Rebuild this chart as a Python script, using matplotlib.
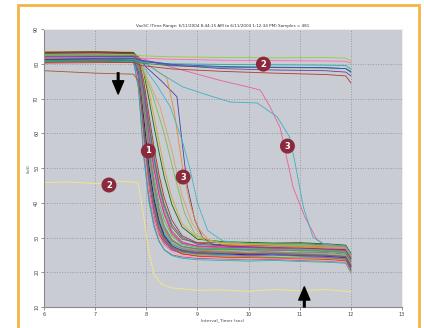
import matplotlib
matplotlib.use("Agg")
import matplotlib.pyplot as plt
from matplotlib.patches import Rectangle

# ---------------- data ----------------
title_text = "VacSC (Time Range: 6/11/2004 8:44:15 AM to 6/11/2004 1:12:34 PM) Samples = 481"
x_label = "Interval_Timer (sec)"
y_label = "VacSC"
x_ticks = [6, 7, 8, 9, 10, 11, 12, 13]
y_ticks = [10, 20, 30, 40, 50, 60, 70, 80, 90]

# main bundle (shared time points)
bundle_x = [6.0, 7.0, 7.75, 7.85, 7.95, 8.05, 8.15, 8.25, 8.35, 8.5, 8.7, 9.0, 9.5, 10.0, 10.5, 11.0, 11.5, 11.9, 12.0]
bundle_y = [
    [83.2, 83.4, 83.1, 76.0, 58.0, 44.5, 36.0, 31.0, 28.5, 27.0, 26.4, 26.0, 25.8, 25.5, 25.6, 25.3, 25.0, 24.6, 22.0],
    [82.6, 82.8, 82.5, 78.5, 65.0, 51.0, 41.5, 35.0, 31.0, 28.0, 26.8, 26.3, 26.0, 26.2, 25.8, 25.6, 25.7, 25.2, 23.0],
    [81.8, 82.0, 81.9, 80.5, 72.0, 61.0, 51.5, 44.0, 38.0, 32.0, 28.8, 27.5, 27.2, 27.0, 26.8, 26.9, 26.5, 26.1, 24.0],
    [80.9, 81.1, 80.8, 73.0, 54.0, 41.0, 33.5, 29.0, 26.5, 25.0, 24.4, 24.0, 23.8, 23.6, 23.7, 23.4, 23.2, 22.9, 20.5],
    [82.1, 82.3, 82.0, 77.0, 62.0, 48.0, 39.0, 33.0, 29.5, 27.0, 26.0, 25.5, 25.4, 25.1, 25.2, 24.9, 24.7, 24.3, 21.8],
    [83.0, 83.1, 82.9, 81.5, 76.0, 67.0, 58.0, 50.0, 43.0, 36.0, 31.0, 28.8, 28.3, 28.0, 28.1, 27.8, 27.7, 27.3, 25.0],
    [81.3, 81.5, 81.2, 75.0, 57.0, 44.0, 36.5, 31.5, 28.8, 26.5, 25.3, 24.8, 24.5, 24.6, 24.3, 24.1, 24.2, 23.8, 21.0],
    [82.4, 82.5, 82.3, 79.5, 69.0, 56.0, 46.0, 38.5, 33.5, 29.5, 27.5, 26.8, 26.6, 26.4, 26.5, 26.2, 26.0, 25.5, 23.2],
    [80.6, 80.8, 80.5, 77.5, 63.0, 49.0, 40.0, 34.0, 30.0, 27.2, 25.8, 25.0, 24.7, 24.5, 24.2, 24.3, 24.0, 23.6, 20.8],
    [83.4, 83.5, 83.3, 80.0, 70.5, 59.0, 49.5, 42.0, 36.5, 31.0, 28.3, 27.4, 27.0, 27.3, 26.9, 26.7, 26.6, 26.2, 24.2],
    [81.6, 81.7, 81.5, 74.0, 55.5, 42.5, 35.0, 30.5, 28.0, 26.3, 25.6, 25.4, 25.2, 25.3, 25.0, 24.8, 24.9, 24.5, 22.2],
    [82.8, 83.0, 82.7, 81.0, 74.0, 64.0, 54.5, 46.5, 40.0, 33.5, 29.8, 28.2, 27.8, 27.6, 27.7, 27.4, 27.2, 26.8, 24.6],
    [81.0, 81.2, 80.9, 78.0, 66.0, 52.5, 42.5, 35.5, 31.5, 28.2, 26.6, 25.9, 25.6, 25.5, 25.6, 25.3, 25.1, 24.7, 22.4],
    [82.3, 82.4, 82.2, 75.5, 59.5, 46.0, 37.5, 32.0, 29.0, 26.8, 25.6, 24.9, 24.6, 24.4, 24.5, 24.2, 23.9, 23.5, 20.2],
    [83.1, 83.2, 83.0, 80.8, 72.5, 62.5, 53.0, 45.0, 39.0, 33.0, 29.5, 28.5, 28.6, 28.3, 28.1, 28.2, 27.9, 27.5, 25.2],
    [81.9, 82.1, 81.8, 78.8, 67.5, 54.5, 44.5, 37.0, 32.5, 29.0, 27.3, 26.7, 26.4, 26.6, 26.3, 26.1, 26.2, 25.7, 23.6],
    [80.4, 80.6, 80.4, 76.5, 61.0, 47.0, 38.0, 32.5, 29.2, 26.8, 25.3, 24.6, 24.3, 24.2, 24.0, 23.8, 23.7, 23.3, 20.6],
    [82.9, 83.0, 82.8, 79.0, 68.0, 55.0, 45.5, 38.0, 33.0, 29.2, 27.4, 26.6, 26.9, 26.5, 26.3, 26.4, 26.1, 25.8, 23.4],
    [81.4, 81.6, 81.3, 80.2, 73.0, 63.0, 53.5, 45.5, 39.5, 33.8, 30.0, 28.0, 27.6, 27.4, 27.5, 27.1, 27.0, 26.6, 24.4],
    [82.0, 82.2, 81.9, 74.5, 56.5, 43.5, 35.5, 30.5, 27.8, 25.8, 24.8, 24.3, 24.0, 23.8, 23.9, 23.6, 23.4, 23.0, 20.0],
    [83.3, 83.4, 83.2, 81.8, 77.5, 70.0, 62.0, 54.5, 47.5, 39.5, 33.0, 29.5, 28.8, 28.6, 28.4, 28.5, 28.2, 27.8, 25.5],
    [81.2, 81.4, 81.1, 77.8, 64.5, 50.5, 41.0, 34.5, 30.5, 27.6, 26.2, 25.6, 25.3, 25.0, 25.1, 24.8, 24.6, 24.2, 21.6],
    [82.5, 82.7, 82.4, 80.3, 71.0, 59.5, 50.0, 42.5, 37.0, 31.5, 28.5, 27.6, 27.3, 27.1, 26.9, 27.0, 26.7, 26.3, 24.0],
    [80.8, 81.0, 80.7, 72.5, 53.0, 40.5, 33.0, 28.8, 26.5, 24.8, 24.0, 23.6, 23.4, 23.2, 23.4, 23.1, 22.9, 22.6, 19.8],
    [82.2, 82.4, 82.1, 78.2, 66.5, 53.5, 43.5, 36.5, 32.0, 28.5, 27.0, 26.3, 26.0, 25.8, 25.9, 25.6, 25.4, 25.0, 22.8],
    [83.0, 83.2, 82.9, 81.2, 75.0, 65.5, 56.0, 48.0, 41.5, 35.0, 30.5, 28.4, 27.9, 27.7, 27.8, 27.5, 27.3, 26.9, 24.8],
    [81.7, 81.9, 81.6, 76.0, 60.0, 46.5, 38.0, 32.5, 29.3, 27.0, 25.9, 25.3, 25.0, 24.8, 24.9, 24.6, 24.4, 24.0, 21.3],
    [82.7, 82.8, 82.6, 79.8, 70.0, 57.5, 47.5, 40.0, 35.0, 30.5, 28.0, 27.1, 26.8, 26.9, 26.6, 26.5, 26.3, 25.9, 23.8],
    [81.5, 81.7, 81.4, 81.0, 78.0, 72.0, 65.0, 57.5, 50.0, 41.5, 34.0, 29.8, 28.4, 28.0, 27.9, 27.7, 27.6, 27.2, 24.9],
    [82.3, 82.4, 82.2, 76.8, 61.5, 48.0, 39.0, 33.0, 29.5, 27.2, 26.1, 25.6, 25.2, 25.4, 25.1, 24.9, 24.8, 24.4, 21.9],
    [78.0, 77.3, 77.0, 75.0, 62.0, 49.0, 40.0, 34.0, 30.0, 27.5, 26.2, 25.7, 25.5, 25.3, 25.4, 25.1, 24.9, 24.5, 22.0],
]
bundle_colors = ['#e41a1c', '#377eb8', '#4daf4a', '#984ea3', '#ff7f00', '#a6cee3', '#e7298a', '#66a61e',
                 '#1b9e77', '#d95f02', '#7570b3', '#e6ab02', '#17becf', '#bcbd22', '#8c564b', '#2ca02c',
                 '#d62728', '#9467bd', '#1f77b4', '#ff9896', '#006400', '#00008b', '#ff00ff', '#20b2aa',
                 '#cd853f', '#b22222', '#6a5acd', '#3cb371', '#daa520', '#4682b4', '#a0522d']

# slower-dropping lines (group 3, near x = 8.7)
late_purple_x = [7.85, 8.0, 8.3, 8.6, 8.68, 8.8, 8.95, 9.1, 9.3, 9.6, 10.0, 11.0, 11.9, 12.0]
late_purple_y = [82.0, 79.0, 75.0, 70.5, 60.0, 45.0, 35.0, 30.0, 28.0, 27.5, 27.3, 27.0, 26.5, 24.0]
late_orange_x = [7.85, 8.1, 8.4, 8.55, 8.72, 8.85, 9.0, 9.2, 9.5, 10.0, 11.0, 11.9, 12.0]
late_orange_y = [82.0, 79.0, 76.0, 66.0, 49.0, 40.0, 33.0, 29.5, 28.0, 27.6, 27.2, 26.8, 24.5]
late_cyan_x = [7.85, 8.2, 8.47, 8.7, 8.86, 9.0, 9.2, 9.5, 10.0, 11.0, 11.9, 12.0]
late_cyan_y = [81.0, 74.0, 67.6, 58.0, 49.4, 40.0, 32.0, 29.0, 28.2, 27.9, 27.4, 25.0]
late_tan_x = [7.85, 8.27, 8.5, 8.7, 8.9, 9.1, 9.4, 10.0, 11.0, 11.9, 12.0]
late_tan_y = [81.5, 67.6, 55.0, 42.0, 34.0, 30.0, 28.5, 28.0, 27.5, 27.0, 24.8]
late_green_x = [7.85, 8.1, 8.35, 8.55, 8.75, 8.95, 9.2, 10.0, 11.0, 11.9, 12.0]
late_green_y = [81.0, 72.0, 60.0, 48.0, 37.0, 31.0, 28.8, 28.3, 27.8, 27.3, 25.0]

# very late drops (group 3, near x = 11)
pink3_x = [7.9, 8.5, 9.0, 9.5, 10.0, 10.23, 10.42, 10.62, 10.87, 11.1, 11.34, 11.5, 11.7, 11.9, 12.0]
pink3_y = [81.5, 79.0, 77.0, 75.0, 73.3, 72.4, 67.6, 61.5, 44.5, 35.9, 29.3, 28.0, 27.6, 27.3, 25.0]
cyan3_x = [7.9, 8.3, 8.72, 9.2, 9.64, 10.17, 10.56, 10.8, 10.91, 11.07, 11.26, 11.45, 11.7, 11.9, 12.0]
cyan3_y = [81.0, 77.0, 73.3, 71.0, 69.0, 68.7, 64.7, 59.0, 51.4, 38.8, 30.1, 28.3, 27.8, 27.5, 25.2]

# lines that stay high (group 2)
high_x = [6.0, 7.75, 7.9, 8.5, 9.5, 10.5, 11.5, 11.9, 12.0]
high_y = [
    [82.5, 82.6, 82.3, 82.0, 81.8, 81.7, 81.8, 81.6, 80.8],
    [81.8, 82.0, 81.6, 81.3, 81.0, 80.9, 80.8, 80.7, 80.2],
    [81.0, 81.2, 80.5, 80.0, 79.8, 79.7, 79.6, 79.5, 78.5],
    [80.8, 80.9, 80.2, 79.4, 79.0, 78.9, 78.8, 78.6, 77.5],
    [81.3, 81.5, 80.8, 79.6, 78.6, 78.2, 78.0, 77.6, 76.5],
    [80.2, 80.4, 79.5, 78.5, 77.8, 77.3, 76.9, 76.5, 74.5],
    [82.0, 82.1, 81.0, 79.8, 79.2, 79.0, 78.9, 78.6, 77.8],
]
high_colors = ['#9acd32', '#ff69b4', '#20b2aa', '#2e8b57', '#6a3d9a', '#b03a2e', '#3050c0']

# low yellow line (group 2)
yellow_x = [6.0, 6.5, 7.0, 7.5, 7.84, 7.95, 8.05, 8.15, 8.3, 8.5, 9.0, 9.5, 10.0, 10.5, 11.0, 11.5, 12.0]
yellow_y = [45.8, 46.0, 45.5, 46.2, 45.8, 36.0, 26.0, 19.5, 16.5, 15.5, 14.8, 14.9, 14.5, 15.0, 14.7, 15.0, 14.4]

# annotation markers (label, x, y)
marker_labels = ["1", "2", "3", "3", "2"]
marker_x = [8.04, 10.29, 8.72, 10.76, 7.27]
marker_y = [54.9, 79.9, 47.4, 56.3, 45.1]

# arrows (tail x, tail y, tip x, tip y)
arrow_down = (7.45, 77.4, 7.45, 71.3)
arrow_up = (11.09, 10.0, 11.09, 15.8)

# ---------------- figure ----------------
fig = plt.figure(figsize=(4.24, 3.28), dpi=100)
fig.patch.set_facecolor('white')

frame = Rectangle((18 / 424, -0.05), 401 / 424, 1.05 - 5 / 328, transform=fig.transFigure,
                  fill=False, edgecolor='#f4b646', linewidth=2.0, zorder=0)
fig.patches.append(frame)

ax = fig.add_axes([44 / 424, 1 - 307 / 328, 358 / 424, 278 / 328])
ax.set_facecolor('#c9ccd3')
ax.set_xlim(6, 13)
ax.set_ylim(10, 90)

ax.grid(True, color='#969aa1', linestyle=(0, (1, 1.6)), linewidth=0.7)
ax.set_axisbelow(True)

for ys, c in zip(bundle_y, bundle_colors):
    ax.plot(bundle_x, ys, color=c, lw=0.6, alpha=0.95)

ax.plot(late_purple_x, late_purple_y, color='#4b3fa0', lw=0.6)
ax.plot(late_orange_x, late_orange_y, color='#f08a24', lw=0.6)
ax.plot(late_cyan_x, late_cyan_y, color='#3fb6c8', lw=0.6)
ax.plot(late_tan_x, late_tan_y, color='#e0a060', lw=0.6)
ax.plot(late_green_x, late_green_y, color='#7cc04a', lw=0.6)
ax.plot(pink3_x, pink3_y, color='#e8609a', lw=0.6)
ax.plot(cyan3_x, cyan3_y, color='#3fb0c0', lw=0.6)

for ys, c in zip(high_y, high_colors):
    ax.plot(high_x, ys, color=c, lw=0.6)

ax.plot(yellow_x, yellow_y, color='#f2e48a', lw=0.7)

for lab, mx, my in zip(marker_labels, marker_x, marker_y):
    ax.text(mx, my, lab, color='white', fontsize=6, fontweight='bold', ha='center', va='center',
            bbox=dict(boxstyle='circle,pad=0.36', fc='#8c2a3d', ec='none'), zorder=10)

for (tx, ty, hx, hy) in (arrow_down, arrow_up):
    ax.annotate('', xy=(hx, hy), xytext=(tx, ty), annotation_clip=False,
                arrowprops=dict(facecolor='black', edgecolor='black', width=1.2,
                                headwidth=8, headlength=9.5, shrink=0), zorder=11)

ax.set_xticks(x_ticks)
ax.set_yticks(y_ticks)
ax.set_xticklabels([str(t) for t in x_ticks], fontsize=3.5, color='#444444')
ax.set_yticklabels([str(t) for t in y_ticks], fontsize=3.5, color='#444444', rotation=90, va='center')
ax.tick_params(axis='both', length=2.5, width=0.5, pad=1, color='#666666')
ax.set_xlabel(x_label, fontsize=3.2, color='#444444', labelpad=1)
ax.set_ylabel(y_label, fontsize=2.2, color='#444444', labelpad=2)
ax.set_title(title_text, fontsize=3.0, color='#333333', pad=1.5)

for s in ('left', 'bottom'):
    ax.spines[s].set_color('#8a8a8a')
    ax.spines[s].set_linewidth(0.8)
for s in ('top', 'right'):
    ax.spines[s].set_color('#eeeeee')
    ax.spines[s].set_linewidth(0.8)

fig.savefig('out.png', dpi=100, facecolor='white')
